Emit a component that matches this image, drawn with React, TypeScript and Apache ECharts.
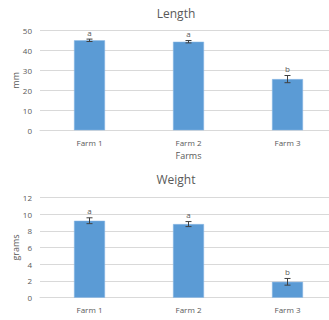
import React, { useEffect, useRef } from "react";
import * as echarts from "echarts";

const categories = ["Farm 1", "Farm 2", "Farm 3"];
const lengthMeans = [45.0, 44.3, 25.6];
const lengthErr = [0.6, 0.6, 1.8];
const lengthLetters = ["a", "a", "b"];
const weightMeans = [9.2, 8.8, 1.9];
const weightErr = [0.35, 0.3, 0.4];
const weightLetters = ["a", "a", "b"];

const FONT = "'Open Sans', 'Liberation Sans', sans-serif";
const TEXT = "#595959";
const BAR = "#5B9BD5";

function errSeries(means: number[], errs: number[], letters: string[], idx: number) {
  return {
    type: "custom",
    xAxisIndex: idx,
    yAxisIndex: idx,
    z: 10,
    clip: false,
    data: means.map((m, i) => [i, m - errs[i], m + errs[i]]),
    renderItem: (params: any, api: any) => {
      const i = api.value(0);
      const lo = api.coord([i, api.value(1)]);
      const hi = api.coord([i, api.value(2)]);
      const cap = 3;
      const st = { stroke: "#404040", lineWidth: 1 };
      return {
        type: "group",
        children: [
          { type: "line", shape: { x1: lo[0], y1: lo[1], x2: hi[0], y2: hi[1] }, style: st },
          { type: "line", shape: { x1: lo[0] - cap, y1: lo[1], x2: lo[0] + cap, y2: lo[1] }, style: st },
          { type: "line", shape: { x1: hi[0] - cap, y1: hi[1], x2: hi[0] + cap, y2: hi[1] }, style: st },
          {
            type: "text",
            x: hi[0],
            y: hi[1] - 3,
            style: {
              text: letters[params.dataIndex],
              fill: TEXT,
              font: `8px ${FONT}`,
              align: "center",
              verticalAlign: "bottom",
            },
          },
        ],
      };
    },
  };
}

export default function App() {
  const ref = useRef<HTMLDivElement>(null);
  useEffect(() => {
    const chart = echarts.init(ref.current!, undefined, { renderer: "svg" });
    const axisLabel = { color: TEXT, fontSize: 8, fontFamily: FONT };
    const xAxisBase = {
      type: "category",
      data: categories,
      axisLine: { lineStyle: { color: "#d9d9d9" } },
      axisTick: { show: false },
      axisLabel: { ...axisLabel, margin: 8 },
    };
    const yAxisBase = {
      type: "value",
      axisLine: { show: false },
      axisTick: { show: false },
      splitLine: { lineStyle: { color: "#d9d9d9" } },
      axisLabel: { ...axisLabel, margin: 8 },
      nameLocation: "middle",
      nameGap: 20,
      nameMoveOverlap: false,
      nameTextStyle: { color: TEXT, fontSize: 9, fontFamily: FONT },
    };
    chart.setOption({
      animation: false,
      title: [
        { text: "Length", left: 171, top: 2, textAlign: "center", textStyle: { color: TEXT, fontSize: 12, fontWeight: "normal", fontFamily: FONT } },
        { text: "Weight", left: 171, top: 168, textAlign: "center", textStyle: { color: TEXT, fontSize: 12, fontWeight: "normal", fontFamily: FONT } },
      ],
      grid: [
        { left: 40, top: 30.3, width: 297, height: 100, outerBoundsMode: "none", containLabel: false },
        { left: 40, top: 197.3, width: 297, height: 100.4, outerBoundsMode: "none", containLabel: false },
      ],
      xAxis: [
        { ...xAxisBase, gridIndex: 0, name: "Farms", nameLocation: "middle", nameGap: 21, nameMoveOverlap: false, nameTextStyle: { color: TEXT, fontSize: 9, fontFamily: FONT } },
        { ...xAxisBase, gridIndex: 1 },
      ],
      yAxis: [
        { ...yAxisBase, gridIndex: 0, min: 0, max: 50, interval: 10, name: "mm" },
        { ...yAxisBase, gridIndex: 1, min: 0, max: 12, interval: 2, name: "grams" },
      ],
      series: [
        { type: "bar", xAxisIndex: 0, yAxisIndex: 0, data: lengthMeans, barWidth: 31, itemStyle: { color: BAR, borderColor: "#8fbbe6", borderWidth: 0.5 } },
        { type: "bar", xAxisIndex: 1, yAxisIndex: 1, data: weightMeans, barWidth: 31, itemStyle: { color: BAR, borderColor: "#8fbbe6", borderWidth: 0.5 } },
        errSeries(lengthMeans, lengthErr, lengthLetters, 0),
        errSeries(weightMeans, weightErr, weightLetters, 1),
      ],
    });
    return () => chart.dispose();
  }, []);
  return <div ref={ref} style={{ position: "absolute", left: 0, top: 0, width: 329, height: 320, background: "#fff" }} />;
}
